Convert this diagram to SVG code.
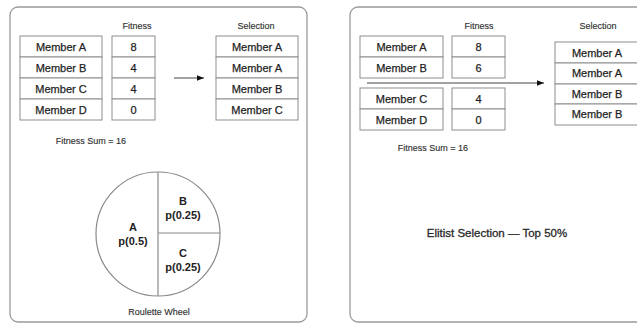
<svg xmlns="http://www.w3.org/2000/svg" width="637" height="325" viewBox="0 0 637 325">
<style>
.panel{fill:#fff;stroke:#9a9a9a;stroke-width:1.3}
.cell{fill:#fff;stroke:#8e8e8e;stroke-width:1}
.t{font-family:"Liberation Sans",Arial,sans-serif;font-size:11px;fill:#1e1e1e;stroke:#1e1e1e;stroke-width:0.25;text-anchor:middle}
.h{font-family:"Liberation Sans",Arial,sans-serif;font-size:9px;fill:#333;stroke:#333;stroke-width:0.15;text-anchor:middle}
.b{font-family:"Liberation Sans",Arial,sans-serif;font-size:11px;font-weight:bold;fill:#222;text-anchor:middle}
.e{font-family:"Liberation Sans",Arial,sans-serif;font-size:11.5px;fill:#2a2a2a;stroke:#2a2a2a;stroke-width:0.3;text-anchor:middle}
.line{stroke:#444;stroke-width:1;fill:none}
.wheel{fill:#fff;stroke:#8a8a8a;stroke-width:1.2}
</style>
<defs>
<marker id="arr" viewBox="0 0 10 10" refX="10" refY="5" markerWidth="7" markerHeight="7" markerUnits="userSpaceOnUse" orient="auto">
<path d="M0,1 L10,5 L0,9 z" fill="#111"/>
</marker>
</defs>
<rect width="637" height="325" fill="#fff"/>

<g id="panel-left">
<rect class="panel" x="10" y="7" width="297" height="315" rx="8"/>
</g>
<g id="panel-right">
<rect class="panel" x="350" y="7" width="300" height="315" rx="8"/>
</g>

<g id="left-members">
<rect class="cell" x="20" y="36" width="82" height="21"/>
<rect class="cell" x="20" y="57" width="82" height="21"/>
<rect class="cell" x="20" y="78" width="82" height="21"/>
<rect class="cell" x="20" y="99" width="82" height="21"/>
<text class="t" x="61" y="51">Member A</text>
<text class="t" x="61" y="72">Member B</text>
<text class="t" x="61" y="93">Member C</text>
<text class="t" x="61" y="114">Member D</text>
</g>
<g id="left-fitness">
<text class="h" x="137" y="29">Fitness</text>
<rect class="cell" x="112" y="36" width="43" height="21"/>
<rect class="cell" x="112" y="57" width="43" height="21"/>
<rect class="cell" x="112" y="78" width="43" height="21"/>
<rect class="cell" x="112" y="99" width="43" height="21"/>
<text class="t" x="133.5" y="51">8</text>
<text class="t" x="133.5" y="72">4</text>
<text class="t" x="133.5" y="93">4</text>
<text class="t" x="133.5" y="114">0</text>
</g>
<g id="left-selection">
<text class="h" x="256" y="29">Selection</text>
<rect class="cell" x="216" y="36" width="82" height="21"/>
<rect class="cell" x="216" y="57" width="82" height="21"/>
<rect class="cell" x="216" y="78" width="82" height="21"/>
<rect class="cell" x="216" y="99" width="82" height="21"/>
<text class="t" x="257" y="51">Member A</text>
<text class="t" x="257" y="72">Member A</text>
<text class="t" x="257" y="93">Member B</text>
<text class="t" x="257" y="114">Member C</text>
</g>
<g id="left-sum">
<text class="h" x="91" y="144">Fitness Sum = 16</text>
</g>
<g id="roulette-wheel">
<circle class="wheel" cx="158" cy="234" r="62"/>
<line class="wheel" x1="158" y1="172" x2="158" y2="296"/>
<line class="wheel" x1="158" y1="233" x2="220" y2="233"/>
<text class="b" x="133" y="231">A</text>
<text class="b" x="133" y="245">p(0.5)</text>
<text class="b" x="183" y="205">B</text>
<text class="b" x="183" y="219">p(0.25)</text>
<text class="b" x="183" y="257">C</text>
<text class="b" x="183" y="271">p(0.25)</text>
<text class="h" x="159" y="315">Roulette Wheel</text>
</g>

<g id="right-members">
<rect class="cell" x="360" y="36" width="83" height="21"/>
<rect class="cell" x="360" y="57" width="83" height="21"/>
<rect class="cell" x="360" y="88" width="83" height="21"/>
<rect class="cell" x="360" y="109" width="83" height="21"/>
<text class="t" x="401.5" y="51">Member A</text>
<text class="t" x="401.5" y="72">Member B</text>
<text class="t" x="401.5" y="103">Member C</text>
<text class="t" x="401.5" y="124">Member D</text>
</g>
<g id="right-fitness">
<text class="h" x="479" y="29">Fitness</text>
<rect class="cell" x="452" y="36" width="53" height="21"/>
<rect class="cell" x="452" y="57" width="53" height="21"/>
<rect class="cell" x="452" y="88" width="53" height="21"/>
<rect class="cell" x="452" y="109" width="53" height="21"/>
<text class="t" x="478.5" y="51">8</text>
<text class="t" x="478.5" y="72">6</text>
<text class="t" x="478.5" y="103">4</text>
<text class="t" x="478.5" y="124">0</text>
</g>
<g id="right-selection">
<text class="h" x="598" y="29">Selection</text>
<rect class="cell" x="555" y="42" width="90" height="21"/>
<rect class="cell" x="555" y="63" width="90" height="21"/>
<rect class="cell" x="555" y="84" width="90" height="20"/>
<rect class="cell" x="555" y="104" width="90" height="21"/>
<text class="t" x="597" y="57">Member A</text>
<text class="t" x="597" y="77">Member A</text>
<text class="t" x="597" y="98">Member B</text>
<text class="t" x="597" y="118">Member B</text>
</g>
<g id="right-sum">
<text class="h" x="433" y="151">Fitness Sum = 16</text>
</g>
<g id="elitist-label">
<text class="e" x="497" y="237">Elitist Selection — Top 50%</text>
</g>

<g id="connectors">
<line class="line" x1="174" y1="78" x2="204" y2="78" marker-end="url(#arr)"/>
<line class="line" x1="367" y1="83" x2="544" y2="83" marker-end="url(#arr)"/>
</g>
</svg>
